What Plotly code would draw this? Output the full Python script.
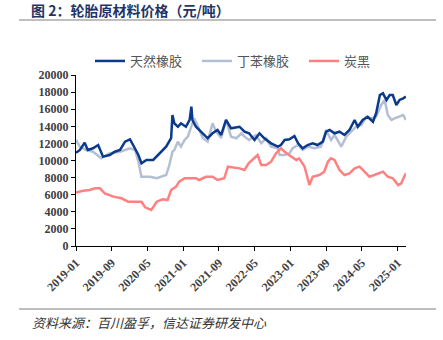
import plotly.graph_objects as go

# ---- data ----
nr_dates = ["2019-01-01","2019-01-28","2019-03-01","2019-03-22","2019-04-27","2019-06-01","2019-07-04",
            "2019-08-19","2019-09-22","2019-10-28","2019-12-01","2020-01-04","2020-01-25","2020-03-01",
            "2020-03-22","2020-04-25","2020-06-10","2020-07-13","2020-07-22","2020-08-13","2020-09-06",
            "2020-10-10","2020-10-19","2020-11-01","2020-11-25","2020-12-16","2021-01-19","2021-02-13",
            "2021-02-25","2021-03-04","2021-03-28","2021-05-13","2021-06-16","2021-07-19","2021-08-22",
            "2021-09-16","2021-10-19","2021-11-22","2022-01-19","2022-02-22","2022-03-25","2022-05-01",
            "2022-06-04","2022-07-07","2022-08-22","2022-10-07","2022-10-28","2022-11-22","2022-12-25",
            "2023-01-28","2023-02-22","2023-03-25","2023-04-28","2023-06-01","2023-07-04","2023-08-10",
            "2023-09-01","2023-09-25","2023-10-28","2023-12-01","2024-01-04","2024-02-07","2024-03-13",
            "2024-04-04","2024-05-07","2024-06-10","2024-07-16","2024-08-07","2024-09-01","2024-09-22",
            "2024-10-16","2024-11-07","2024-11-28","2024-12-22","2025-01-13","2025-02-07","2025-02-25"]
nr_values = [10900,11230,12090,11230,11430,11810,10450,
             10640,11030,11230,12200,12480,11810,10640,
             9670,10060,10060,10640,10840,11230,11620,
             12630,15320,14350,13950,14350,13950,14740,
             16290,14740,13950,13180,12600,13180,13570,
             12990,14740,13770,13950,13370,13180,12400,
             13180,12600,12010,11620,11810,12400,12480,
             12870,12010,11430,11810,12010,11810,12200,
             13370,13570,13180,13370,12990,13570,14740,
             13950,14740,15120,14540,15550,17660,17860,
             17080,17660,17660,16490,17080,17270,17470]

sbr_dates = ["2019-01-01","2019-01-28","2019-03-13","2019-04-27","2019-06-22","2019-08-19","2019-10-28",
             "2020-01-04","2020-02-07","2020-03-01","2020-03-22","2020-05-19","2020-07-04","2020-08-07",
             "2020-09-06","2020-09-28","2020-10-19","2020-11-01","2020-11-25","2020-12-16","2021-01-10",
             "2021-02-01","2021-02-25","2021-03-16","2021-04-07","2021-05-13","2021-06-16","2021-07-19",
             "2021-08-13","2021-09-16","2021-10-19","2021-11-22","2021-12-28","2022-02-01","2022-02-22",
             "2022-03-25","2022-05-10","2022-06-16","2022-07-19","2022-08-22","2022-10-07","2022-10-19",
             "2022-11-22","2022-12-25","2023-01-16","2023-02-22","2023-03-25","2023-04-28","2023-06-13",
             "2023-07-28","2023-09-01","2023-10-04","2023-10-28","2023-12-13","2024-01-16","2024-02-19",
             "2024-03-22","2024-04-28","2024-06-01","2024-07-04","2024-08-07","2024-09-10","2024-10-04",
             "2024-10-25","2024-11-19","2024-12-10","2025-01-04","2025-02-07","2025-02-25"]
sbr_values = [12400,11600,11230,11030,10260,10840,11030,
              11420,11230,9860,8100,8100,7920,8100,
              8300,9470,11030,11230,12200,11620,12400,
              12790,14150,14930,14150,12630,12200,14350,
              13370,12630,14740,12790,12600,13180,12790,
              12400,12990,12010,12600,11620,11430,10640,
              10640,10840,11430,11810,11230,11620,11430,
              11620,13570,12400,12990,11620,12790,13370,
              13950,14150,15120,14930,15120,16490,17080,
              15320,14740,14930,15120,15320,14740]

cb_dates = ["2019-01-01","2019-02-19","2019-04-04","2019-05-10","2019-06-13","2019-07-16","2019-09-13",
            "2019-11-07","2019-12-22","2020-03-22","2020-04-16","2020-05-28","2020-07-04","2020-08-13",
            "2020-09-16","2020-10-10","2020-11-13","2020-12-04","2021-01-10","2021-03-28","2021-04-19",
            "2021-06-04","2021-07-19","2021-08-22","2021-10-07","2021-11-01","2022-01-19","2022-02-22",
            "2022-03-22","2022-05-22","2022-06-16","2022-07-19","2022-08-22","2022-09-25","2022-10-28",
            "2022-11-22","2023-01-07","2023-02-10","2023-03-01","2023-04-07","2023-05-10","2023-06-01",
            "2023-07-16","2023-08-19","2023-09-13","2023-10-04","2023-10-28","2023-12-01","2024-01-04",
            "2024-02-07","2024-03-13","2024-04-16","2024-05-19","2024-06-22","2024-07-25","2024-09-01",
            "2024-09-22","2024-10-25","2024-11-28","2025-01-04","2025-01-25","2025-02-19","2025-02-25"]
cb_values = [6240,6470,6550,6750,6750,6160,5770,
             5580,5180,5180,4520,4210,5180,5460,
             5380,6550,6940,7520,7920,7920,7720,
             8100,8100,7720,7920,9280,9080,8890,
             9670,10640,9470,9470,9860,10840,11430,
             11030,10450,10060,10250,9280,7130,8100,
             8300,8690,9860,10250,10060,8890,8300,
             8500,9080,9280,8690,8100,8300,8500,
             8690,8100,7920,7130,7330,8300,8500]

series_names = ["天然橡胶", "丁苯橡胶", "炭黑"]
y_ticks = list(range(0, 20001, 2000))

title_text = "图 2：轮胎原材料价格（元/吨）"
source_text = "资料来源：百川盈孚，信达证券研发中心"

# ---- figure ----
W, H = 443, 340
L, R, T, B = 76, 37, 75, 94
pw, ph = W - L - R, H - T - B


def px_x(px):
    return (px - L) / pw


def px_y(py):
    return (H - B - py) / ph


fig = go.Figure()
fig.add_trace(go.Scatter(x=sbr_dates, y=sbr_values, name=series_names[1], mode="lines",
                         line=dict(color="#b3bfd4", width=2.5), legendrank=2))
fig.add_trace(go.Scatter(x=nr_dates, y=nr_values, name=series_names[0], mode="lines",
                         line=dict(color="#0b3a8c", width=2.5), legendrank=1))
fig.add_trace(go.Scatter(x=cb_dates, y=cb_values, name=series_names[2], mode="lines",
                         line=dict(color="#ff8080", width=2.5), legendrank=3))

tick_font = dict(family="Liberation Serif", size=12, color="#404040", weight="bold")

fig.update_layout(
    width=W, height=H,
    margin=dict(l=L, r=R, t=T, b=B, pad=0),
    paper_bgcolor="white", plot_bgcolor="white",
    showlegend=True,
    legend=dict(orientation="h", x=px_x(90), xanchor="left", y=px_y(61), yanchor="middle",
                font=dict(family="Noto Sans CJK SC", size=13, color="#555555"),
                entrywidth=62, entrywidthmode="pixels", traceorder="normal",
                bgcolor="rgba(0,0,0,0)", itemwidth=30),
    xaxis=dict(type="date", range=["2019-01-01", "2025-02-26"],
               tick0="2019-01-01", dtick="M8", tickformat="%Y-%m", tickangle=-45,
               showline=True, linecolor="black", linewidth=1,
               ticks="outside", ticklen=4, tickcolor="black",
               showgrid=False, zeroline=False, tickfont=tick_font),
    yaxis=dict(range=[0, 20000], tickvals=y_ticks, ticktext=[str(v) for v in y_ticks],
               showline=True, linecolor="black", linewidth=1,
               ticks="outside", ticklen=4, tickcolor="black",
               showgrid=False, zeroline=False, tickfont=tick_font),
    annotations=[
        dict(text=title_text, xref="paper", yref="paper", x=px_x(29), y=px_y(10),
             xanchor="left", yanchor="middle", showarrow=False,
             font=dict(family="Noto Sans CJK SC", size=14, color="#1f3566", weight="bold")),
        dict(text=source_text, xref="paper", yref="paper", x=px_x(30), y=px_y(322),
             xanchor="left", yanchor="middle", showarrow=False,
             font=dict(family="Noto Sans CJK SC", size=13, color="#333333", style="italic")),
    ],
    shapes=[
        dict(type="line", xref="paper", yref="paper", x0=px_x(19), x1=px_x(436),
             y0=px_y(20), y1=px_y(20), line=dict(color="#7f7f7f", width=1.2)),
        dict(type="line", xref="paper", yref="paper", x0=px_x(19), x1=px_x(436),
             y0=px_y(309), y1=px_y(309), line=dict(color="#7f7f7f", width=1.2)),
    ],
)

fig.write_html("out.html")
